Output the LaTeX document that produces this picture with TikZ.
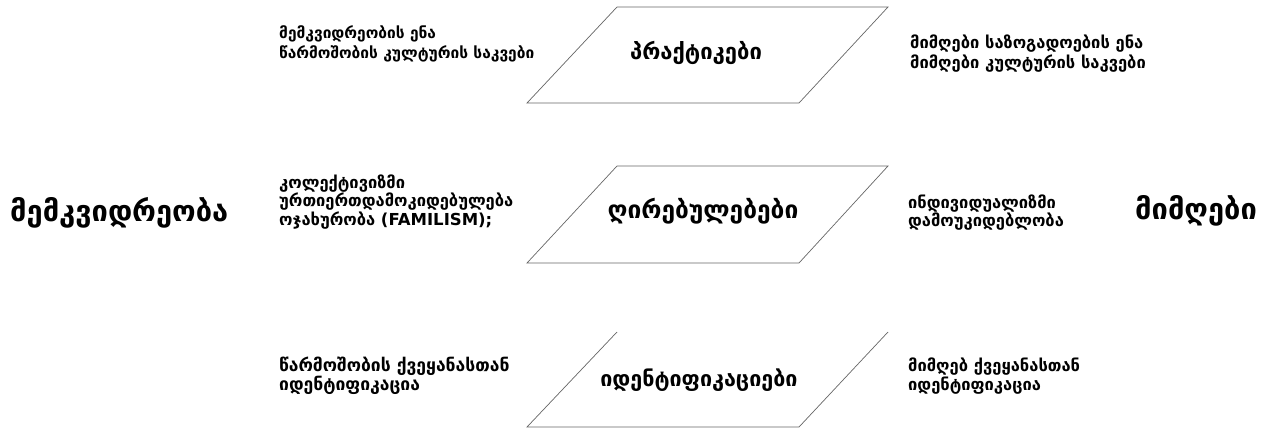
\documentclass[tikz,border=0pt]{standalone}
\usepackage{fontspec}
\setmainfont{DejaVu Sans}
\begin{document}
\begin{tikzpicture}[x=1pt,y=-1pt,
  small/.style={anchor=west,align=left,inner sep=0pt,font=\bfseries\fontsize{16.5}{#1}\selectfont},
  small/.default=20,
  big/.style={inner sep=0pt,font=\bfseries\fontsize{#1}{30}\selectfont},
  big/.default=23,
  para/.style={draw=black!60,line width=0.7pt}]
\useasboundingbox (0,0) rectangle (1278,428);
% parallelograms
\draw[para] (617,7) -- (888,7) -- (799,103) -- (527,103) -- cycle;
\draw[para] (617,166) -- (888,166) -- (799,263) -- (527,263) -- cycle;
\draw[para] (617,332) -- (527,427) -- (799,427) -- (888,332);
% main labels
\node[big=22] (prak) at (696,53) {პრაქტიკები};
\node[big=24.5] (ghir) at (703,211) {ღირებულებები};
\node[big=21.5] (iden) at (699,380) {იდენტიფიკაციები};
\node[big=29,anchor=west] (memk) at (10,213) {მემკვიდრეობა};
\node[big=29,anchor=west] (mimg) at (1135,211) {მიმღები};
% side texts
\node[small,font=\bfseries\fontsize{15.5}{20}\selectfont] (t1) at (279,44) {მემკვიდრეობის ენა\\წარმოშობის კულტურის საკვები};
\node[small] (t3) at (910,54) {მიმღები საზოგადოების ენა\\მიმღები კულტურის საკვები};
\node[small=16] (t5) at (279,202) {კოლექტივიზმი\\ურთიერთდამოკიდებულება\\ოჯახურობა (FAMILISM);};
\node[small=18] (t6) at (908,213) {ინდივიდუალიზმი\\დამოუკიდებლობა};
\node[small=19,font=\bfseries\fontsize{17.5}{19}\selectfont] (t9) at (279,376) {წარმოშობის ქვეყანასთან\\იდენტიფიკაცია};
\node[small=19] (t11) at (908,376) {მიმღებ ქვეყანასთან\\იდენტიფიკაცია};
\end{tikzpicture}
\end{document}
